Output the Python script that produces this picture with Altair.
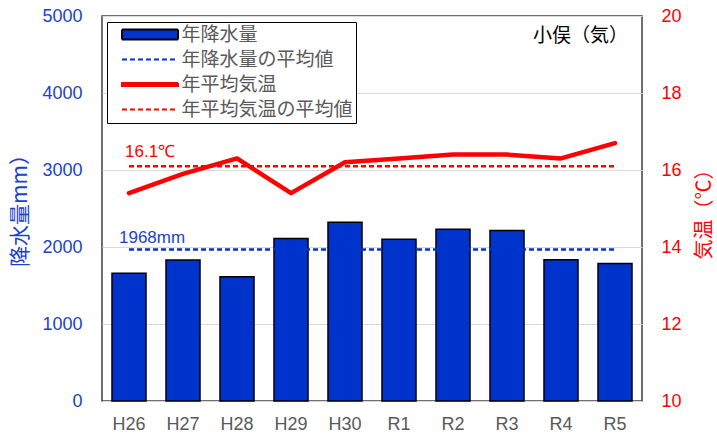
import altair as alt
import pandas as pd

# Annual precipitation and mean temperature at 小俣 (H26 - R5)
years = ["H26", "H27", "H28", "H29", "H30", "R1", "R2", "R3", "R4", "R5"]
rain_mm = [1660, 1830, 1615, 2110, 2320, 2100, 2230, 2215, 1835, 1785]
temp_c = [15.4, 15.9, 16.3, 15.4, 16.2, 16.3, 16.4, 16.4, 16.3, 16.7]
rain_avg = 1968
temp_avg = 16.1
series = ["年降水量", "年降水量の平均値", "年平均気温", "年平均気温の平均値"]
rain_ticks = [0, 1000, 2000, 3000, 4000, 5000]
temp_ticks = [10, 12, 14, 16, 18, 20]

BLUE = "#0033cc"
BLUE_TXT = "#1a3fd0"
RED = "#ff0000"
GRAY = "#595959"
JP = "Noto Sans CJK JP"
NUM = "Liberation Sans"

W, H = 540, 385

df = pd.DataFrame({
    "年": years,
    "降水量": rain_mm,
    "気温": temp_c,
    "降水平均": rain_avg,
    "気温平均": temp_avg,
})
label_df = pd.DataFrame({
    "年": [years[0]],
    "降水平均": [rain_avg],
    "気温平均": [temp_avg],
    "降水ラベル": [f"{rain_avg}mm"],
    "気温ラベル": [f"{temp_avg}℃"],
})
key_df = pd.DataFrame({"系列": series})

x_scale = alt.Scale(domain=years, paddingInner=0.37, paddingOuter=0.185)
rain_scale = alt.Scale(domain=[0, 5000], nice=False)
temp_scale = alt.Scale(domain=[10, 20], nice=False, zero=False)

# Every layer carries the same axis definition so the shared axes merge cleanly
x_axis = alt.Axis(title=None, labelAngle=0, labelColor=GRAY, labelFont=NUM,
                  labelFontSize=18, labelPadding=14, ticks=False, domain=False, grid=False)
rain_axis = alt.Axis(
    values=rain_ticks, format="d", title="降水量mm）", grid=True, gridColor="#d9d9d9",
    ticks=False, domain=False, labelColor=BLUE_TXT, labelFont=NUM,
    labelFontSize=18, labelPadding=20, titleColor=BLUE_TXT, titleFont=JP,
    titleFontSize=21, titleFontWeight="normal", titleAngle=270,
    titleX=-82, titleY=189, titleAlign="center", titleBaseline="middle")
temp_axis = alt.Axis(
    orient="right", values=temp_ticks, format="d", title="気温（℃）", grid=False,
    ticks=False, domain=False, labelColor=RED, labelFont=NUM,
    labelFontSize=18, labelPadding=19, titleColor=RED, titleFont=JP,
    titleFontSize=20, titleFontWeight="normal", titleAngle=270,
    titleX=62, titleY=193, titleAlign="center", titleBaseline="middle")


def x_enc():
    return alt.X("年:N", scale=x_scale, axis=x_axis)


def rain_y(field):
    return alt.Y(f"{field}:Q", scale=rain_scale, axis=rain_axis)


def temp_y(field):
    return alt.Y(f"{field}:Q", scale=temp_scale, axis=temp_axis)


# Key glyphs: bar swatch, dashed line, thick line, dashed line
key_shapes = ["M-14,-2.5H14V2.5H-14Z", "M-14,0H14", "M-14,-0.8H14V0.8H-14Z", "M-14,0H14"]
key_fill = [BLUE, BLUE, RED, RED]
key_stroke = ["black", BLUE, RED, RED]
key_dash = [[1, 0], [5, 3], [1, 0], [5, 3]]


def key_legend():
    return alt.Legend(
        title=None, orient="none", legendX=5, legendY=6, direction="vertical",
        fillColor="white", strokeColor="black", padding=3,
        labelFont=JP, labelFontSize=19, labelColor=GRAY, labelLimit=400,
        symbolSize=16, symbolStrokeWidth=2, symbolOpacity=1,
        symbolOffset=30.5, labelOffset=22, rowPadding=5,
    )


key = alt.Chart(key_df).transform_filter("false").mark_point(
    filled=True, opacity=1, strokeWidth=2
).encode(
    fill=alt.Fill("系列:N", scale=alt.Scale(domain=series, range=key_fill), legend=key_legend()),
    stroke=alt.Stroke("系列:N", scale=alt.Scale(domain=series, range=key_stroke), legend=key_legend()),
    shape=alt.Shape("系列:N", scale=alt.Scale(domain=series, range=key_shapes), legend=key_legend()),
    strokeDash=alt.StrokeDash("系列:N", scale=alt.Scale(domain=series, range=key_dash), legend=key_legend()),
)

bars = alt.Chart(df).mark_bar(color=BLUE, stroke="black", strokeWidth=1.5).encode(
    x=x_enc(), y=rain_y("降水量"))

rain_avg_line = alt.Chart(df).mark_line(color=BLUE, strokeWidth=2.5, strokeDash=[5, 3]).encode(
    x=x_enc(), y=rain_y("降水平均"))

rain_avg_text = alt.Chart(label_df).mark_text(
    align="left", baseline="alphabetic", dx=-10, dy=-6, font=NUM, fontSize=17, color=BLUE_TXT
).encode(x=x_enc(), y=rain_y("降水平均"), text="降水ラベル:N")

temp_line = alt.Chart(df).mark_line(
    color=RED, strokeWidth=4.5, strokeCap="round", strokeJoin="round"
).encode(x=x_enc(), y=temp_y("気温"))

temp_avg_line = alt.Chart(df).mark_line(color=RED, strokeWidth=2.5, strokeDash=[5, 3]).encode(
    x=x_enc(), y=temp_y("気温平均"))

temp_avg_text = alt.Chart(label_df).mark_text(
    align="left", baseline="alphabetic", dx=-4, dy=-9, font=NUM, fontSize=17, color=RED
).encode(x=x_enc(), y=temp_y("気温平均"), text="気温ラベル:N")

rain_layer = alt.layer(bars, rain_avg_line, rain_avg_text, key)
temp_layer = alt.layer(temp_line, temp_avg_line, temp_avg_text)

chart = alt.layer(rain_layer, temp_layer).resolve_scale(y="independent").properties(
    width=W, height=H,
    padding={"left": 102, "top": 16, "right": 75, "bottom": 36},
    autosize=alt.AutoSizeParams(type="none"),
    title=alt.TitleParams("小俣（気）", anchor="end", frame="group", font=JP, fontSize=19,
                          fontWeight="normal", color="black", dx=-14, dy=43),
).configure_view(stroke="#404040", strokeWidth=1.5)

chart.save("out.html", embed_options={"renderer": "svg", "actions": False})
